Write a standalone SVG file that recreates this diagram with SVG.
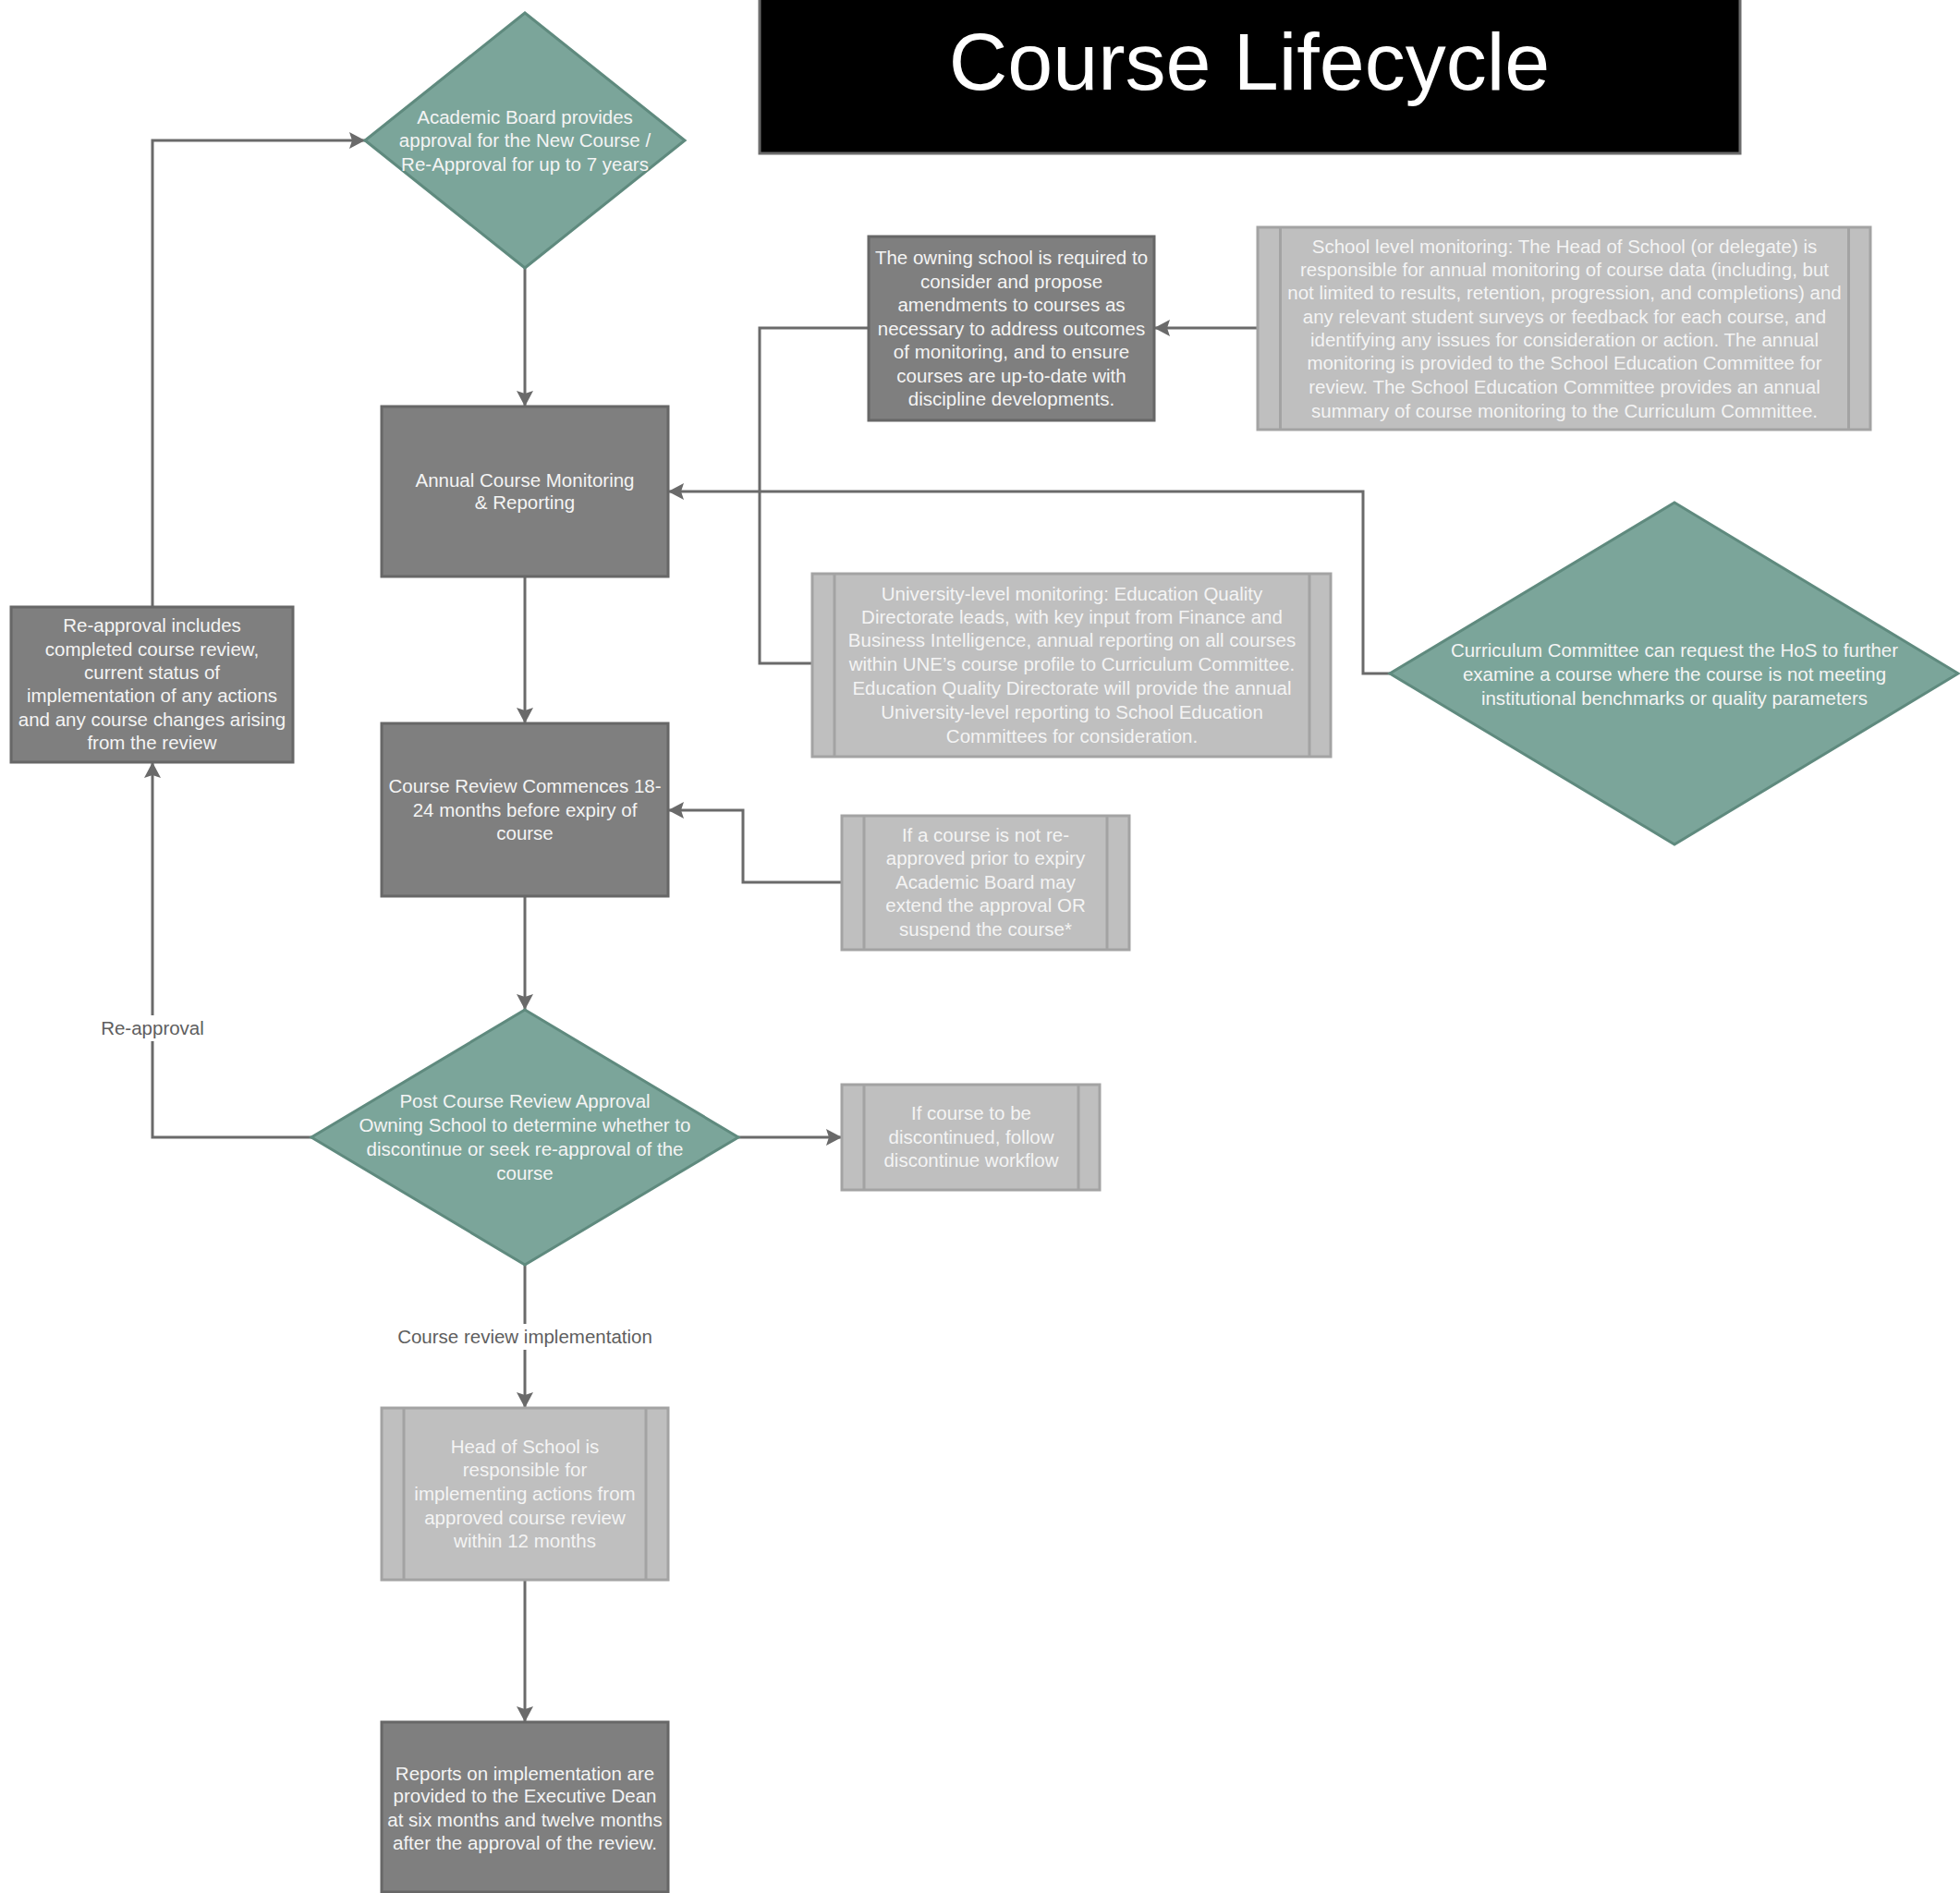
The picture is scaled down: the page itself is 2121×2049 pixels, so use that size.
<svg xmlns="http://www.w3.org/2000/svg" width="2121" height="2049" viewBox="0 0 2121 2049">
<defs>
<style>
.dk{fill:#7f7f7f;stroke:#676767;stroke-width:3}
.lt{fill:#bfbfbf;stroke:#a3a3a3;stroke-width:3}
.bar{stroke:#a3a3a3;stroke-width:3;fill:none}
.dm{fill:#7ba59a;stroke:#5f8a7e;stroke-width:3}
.t{font-family:"Liberation Sans",Arial,sans-serif;font-size:20.5px;fill:#f4f4f4;text-anchor:middle}
.lbl{font-family:"Liberation Sans",Arial,sans-serif;font-size:20.5px;fill:#5e5e5e;text-anchor:middle}
.c{fill:none;stroke:#6a6a6a;stroke-width:3}
</style>
<marker id="ah" viewBox="0 0 17 18" refX="17" refY="9" markerWidth="17" markerHeight="18" markerUnits="userSpaceOnUse" orient="auto">
<path d="M0,0 L17,9 L0,18 L3,9 z" fill="#6a6a6a"/>
</marker>
</defs>
<rect width="2121" height="2049" fill="#ffffff"/>

<g id="title">
<rect x="822" y="-5" width="1061" height="171" fill="#000000" stroke="#6a6a6a" stroke-width="3"/>
<text x="1352" y="97" font-family="Liberation Sans, Arial, sans-serif" font-size="88" fill="#ffffff" text-anchor="middle">Course Lifecycle</text>
</g>

<g id="connectors">
<path class="c" d="M568,290 V440" marker-end="url(#ah)"/>
<path class="c" d="M568,624 V783" marker-end="url(#ah)"/>
<path class="c" d="M568,970 V1093" marker-end="url(#ah)"/>
<path class="c" d="M568,1369 V1524" marker-end="url(#ah)"/>
<path class="c" d="M568,1710 V1864" marker-end="url(#ah)"/>
<path class="c" d="M337,1231 H165 V825" marker-end="url(#ah)"/>
<path class="c" d="M165,657 V152 H395" marker-end="url(#ah)"/>
<path class="c" d="M799,1231 H911" marker-end="url(#ah)"/>
<path class="c" d="M911,955 H804 V877 H723" marker-end="url(#ah)"/>
<path class="c" d="M1360,355 H1249" marker-end="url(#ah)"/>
<path class="c" d="M940,355 H822 V718 H878"/>
<path class="c" d="M1504,729 H1475 V532 H723" marker-end="url(#ah)"/>
<rect x="432" y="1433" width="272" height="28" fill="#ffffff"/>
<text class="lbl" x="568" y="1454">Course review implementation</text>
<rect x="108" y="1099" width="114" height="28" fill="#ffffff"/>
<text class="lbl" x="165" y="1120">Re-approval</text>
</g>

<g id="academic-board">
<polygon class="dm" points="568,14 741,152 568,290 395,152"/>
<text class="t" x="568"><tspan x="568" y="133.5">Academic Board provides</tspan><tspan x="568" y="159">approval for the New Course /</tspan><tspan x="568" y="185">Re-Approval for up to 7 years</tspan></text>
</g>

<g id="annual-monitoring">
<rect class="dk" x="413" y="440" width="310" height="184"/>
<text class="t"><tspan x="568" y="527">Annual Course Monitoring</tspan><tspan x="568" y="551">&amp; Reporting</tspan></text>
</g>

<g id="course-review">
<rect class="dk" x="413" y="783" width="310" height="187"/>
<text class="t"><tspan x="568" y="858">Course Review Commences 18-</tspan><tspan x="568" y="884">24 months before expiry of</tspan><tspan x="568" y="909">course</tspan></text>
</g>

<g id="reapproval-includes">
<rect class="dk" x="12" y="657" width="305" height="168"/>
<text class="t"><tspan x="164.5" y="684">Re-approval includes</tspan><tspan x="164.5" y="710">completed course review,</tspan><tspan x="164.5" y="735">current status of</tspan><tspan x="164.5" y="760">implementation of any actions</tspan><tspan x="164.5" y="786">and any course changes arising</tspan><tspan x="164.5" y="811">from the review</tspan></text>
</g>

<g id="post-review">
<polygon class="dm" points="568,1093 799,1231 568,1369 337,1231"/>
<text class="t"><tspan x="568" y="1199">Post Course Review Approval</tspan><tspan x="568" y="1225">Owning School to determine whether to</tspan><tspan x="568" y="1251">discontinue or seek re-approval of the</tspan><tspan x="568" y="1277">course</tspan></text>
</g>

<g id="discontinue">
<rect class="lt" x="911" y="1174" width="279" height="114"/>
<path class="bar" d="M935,1174 V1288 M1167,1174 V1288"/>
<text class="t"><tspan x="1051" y="1212">If course to be</tspan><tspan x="1051" y="1238">discontinued, follow</tspan><tspan x="1051" y="1263">discontinue workflow</tspan></text>
</g>

<g id="not-reapproved">
<rect class="lt" x="911" y="883" width="311" height="145"/>
<path class="bar" d="M935,883 V1028 M1198,883 V1028"/>
<text class="t"><tspan x="1066.5" y="911">If a course is not re-</tspan><tspan x="1066.5" y="936">approved prior to expiry</tspan><tspan x="1066.5" y="962">Academic Board may</tspan><tspan x="1066.5" y="987">extend the approval OR</tspan><tspan x="1066.5" y="1013">suspend the course*</tspan></text>
</g>

<g id="hos-implementing">
<rect class="lt" x="413" y="1524" width="310" height="186"/>
<path class="bar" d="M437,1524 V1710 M699,1524 V1710"/>
<text class="t"><tspan x="568" y="1573">Head of School is</tspan><tspan x="568" y="1598">responsible for</tspan><tspan x="568" y="1624">implementing actions from</tspan><tspan x="568" y="1650">approved course review</tspan><tspan x="568" y="1675">within 12 months</tspan></text>
</g>

<g id="reports">
<rect class="dk" x="413" y="1864" width="310" height="184"/>
<text class="t"><tspan x="568" y="1927">Reports on implementation are</tspan><tspan x="568" y="1951">provided to the Executive Dean</tspan><tspan x="568" y="1977">at six months and twelve months</tspan><tspan x="568" y="2002">after the approval of the review.</tspan></text>
</g>

<g id="owning-school">
<rect class="dk" x="940" y="256" width="309" height="199"/>
<text class="t"><tspan x="1094.5" y="286">The owning school is required to</tspan><tspan x="1094.5" y="312">consider and propose</tspan><tspan x="1094.5" y="337">amendments to courses as</tspan><tspan x="1094.5" y="363">necessary to address outcomes</tspan><tspan x="1094.5" y="388">of monitoring, and to ensure</tspan><tspan x="1094.5" y="414">courses are up-to-date with</tspan><tspan x="1094.5" y="439">discipline developments.</tspan></text>
</g>

<g id="school-level">
<rect class="lt" x="1361" y="246" width="663" height="219"/>
<path class="bar" d="M1385.5,246 V465 M2000.5,246 V465"/>
<text class="t"><tspan x="1693" y="274">School level monitoring: The Head of School (or delegate) is</tspan><tspan x="1693" y="299">responsible for annual monitoring of course data (including, but</tspan><tspan x="1693" y="324">not limited to results, retention, progression, and completions) and</tspan><tspan x="1693" y="350">any relevant student surveys or feedback for each course, and</tspan><tspan x="1693" y="375">identifying any issues for consideration or action. The annual</tspan><tspan x="1693" y="400">monitoring is provided to the School Education Committee for</tspan><tspan x="1693" y="426">review. The School Education Committee provides an annual</tspan><tspan x="1693" y="452">summary of course monitoring to the Curriculum Committee.</tspan></text>
</g>

<g id="university-level">
<rect class="lt" x="879" y="621" width="561" height="198"/>
<path class="bar" d="M903,621 V819 M1417,621 V819"/>
<text class="t"><tspan x="1160" y="650">University-level monitoring: Education Quality</tspan><tspan x="1160" y="675">Directorate leads, with key input from Finance and</tspan><tspan x="1160" y="700">Business Intelligence, annual reporting on all courses</tspan><tspan x="1160" y="726">within UNE’s course profile to Curriculum Committee.</tspan><tspan x="1160" y="752">Education Quality Directorate will provide the annual</tspan><tspan x="1160" y="778">University-level reporting to School Education</tspan><tspan x="1160" y="804">Committees for consideration.</tspan></text>
</g>

<g id="curriculum-committee">
<polygon class="dm" points="1812,544 2119,729 1812,914 1504,729"/>
<text class="t"><tspan x="1812" y="711">Curriculum Committee can request the HoS to further</tspan><tspan x="1812" y="737">examine a course where the course is not meeting</tspan><tspan x="1812" y="763">institutional benchmarks or quality parameters</tspan></text>
</g>
</svg>
